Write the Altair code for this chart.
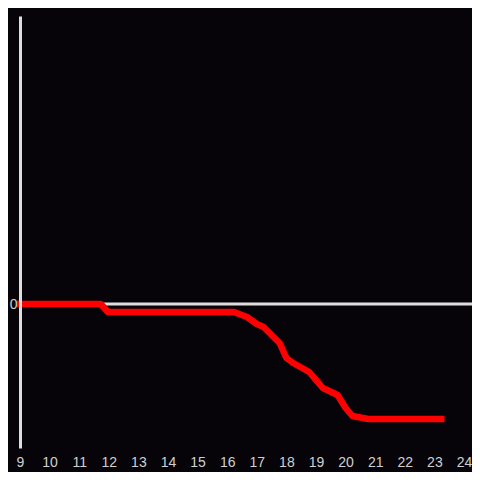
import altair as alt
import pandas as pd

hours = [9.0, 11.73, 11.97, 16.23, 16.67, 17.0, 17.23, 17.77, 18.0, 18.23,
         18.77, 19.23, 19.73, 20.0, 20.23, 20.77, 23.23]
values = [0.0, 0.0, -0.8, -0.8, -1.3, -2.0, -2.3, -3.9, -5.4, -5.9,
          -6.8, -8.4, -9.1, -10.4, -11.2, -11.5, -11.5]
x_ticks = list(range(9, 25))

df = pd.DataFrame({"hour": hours, "value": values})

px_per_hour = 29.6
xscale = alt.Scale(domain=[9, 9 + 452 / px_per_hour], nice=False, zero=False)
yscale = alt.Scale(domain=[-14.4, 28.8], nice=False)

zero_rule = alt.Chart(pd.DataFrame({"z": [0]})).mark_rule(
    color="#dedede", strokeWidth=3
).encode(y=alt.Y("z:Q", scale=yscale))

line = alt.Chart(df).mark_line(
    color="#ff0000", strokeWidth=6.5, strokeCap="square", strokeJoin="round"
).encode(
    x=alt.X("hour:Q", scale=xscale,
            axis=alt.Axis(values=x_ticks, title=None, domain=False, ticks=False,
                          grid=False, labelPadding=7, labelFontSize=14,
                          labelFlush=False,
                          labelColor="#d0d0d0", labelFont="Liberation Sans",
                          format="d")),
    y=alt.Y("value:Q", scale=yscale,
            axis=alt.Axis(values=[0], title=None, domain=True, domainColor="#dedede",
                          domainWidth=3, ticks=False, grid=False, labelPadding=3,
                          labelFontSize=14, labelColor="#d0d0d0",
                          labelFont="Liberation Sans", zindex=1)),
)

chart = alt.layer(zero_rule, line).properties(
    width=452, height=432,
    background="#060409",
    padding={"left": 12, "top": 8, "right": 0, "bottom": 24},
    autosize=alt.AutoSizeParams(type="none"),
).configure_view(stroke=None)

chart.save("out.html", embed_options={"renderer": "svg", "actions": False})
